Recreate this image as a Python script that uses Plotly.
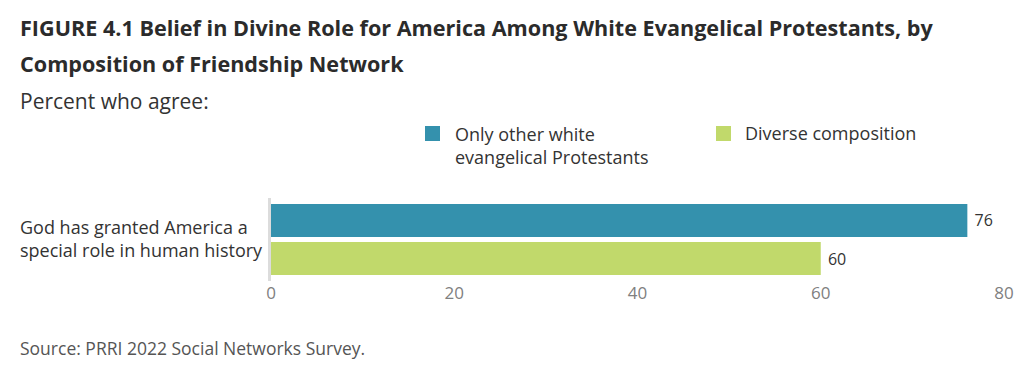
import plotly.graph_objects as go

categories = ["God has granted America a<br>special role in human history"]
series_names = ["Only other white<br>evangelical Protestants", "Diverse composition"]
only_white_evangelical = [76]
diverse_composition = [60]
colors = ["#3491AD", "#C1D96B"]
x_ticks = [0, 20, 40, 60, 80]

# page body adds an 8px offset; work in screenshot pixel coordinates
OFF = 8
W, H = 1033 - OFF, 377 - OFF
PL, PR, PT, PB = 271, 1004, 198, 281  # plot area in screenshot px
PH = PB - PT
PW = PR - PL

def py(y):
    return (PB - y) / PH

def px(x):
    return (x - PL) / PW

FONT = "Open Sans"
fig = go.Figure()
for name, vals, col in [(series_names[0], only_white_evangelical, colors[0]),
                        (series_names[1], diverse_composition, colors[1])]:
    fig.add_trace(go.Bar(
        y=categories, x=vals, name=name, orientation="h",
        marker=dict(color=col, line=dict(width=0)),
        text=vals, texttemplate="\u00a0%{x}", textposition="outside",
        cliponaxis=False,
        textfont=dict(family=FONT, size=16, color="#333333"),
        showlegend=False,
    ))

fig.update_layout(
    width=W, height=H,
    margin=dict(l=PL - OFF, r=1033 - PR, t=PT - OFF, b=377 - PB),
    paper_bgcolor="white", plot_bgcolor="white",
    barmode="group", bargap=0.084, bargroupgap=0.13,
    font=dict(family=FONT, color="#333333"),
    xaxis=dict(range=[0, 80], tickvals=x_ticks, showgrid=False, zeroline=False,
               showline=False, ticks="", tickfont=dict(family=FONT, size=17, color="#808080"),
               fixedrange=True),
    yaxis=dict(autorange="reversed", showticklabels=False, showgrid=False, zeroline=False,
               showline=True, linecolor="#dcdcdc", linewidth=3, ticks=""),
    showlegend=False,
)

annotations = [
    dict(text="<b>FIGURE 4.1 Belief in Divine Role for America Among White Evangelical Protestants, by</b>",
         x=px(18), y=py(27), font=dict(size=21.6, color="#2b2b2b")),
    dict(text="<b>Composition of Friendship Network</b>",
         x=px(18), y=py(63), font=dict(size=21.6, color="#2b2b2b")),
    dict(text="Percent who agree:", x=px(18), y=py(101), font=dict(size=21, color="#333333")),
    dict(text=series_names[0], x=px(453), y=py(145), font=dict(size=18, color="#333333")),
    dict(text=series_names[1], x=px(743), y=py(133), font=dict(size=18, color="#333333")),
    dict(text=categories[0], x=px(18), y=py(238), font=dict(size=18, color="#333333")),
    dict(text="Source: PRRI 2022 Social Networks Survey.", x=px(18), y=py(348),
         font=dict(size=17.5, color="#555555")),
]
for a in annotations:
    fig.add_annotation(xref="paper", yref="paper", xanchor="left", yanchor="middle",
                       align="left", showarrow=False, **a)

for x0, col in [(425, colors[0]), (716, colors[1])]:
    fig.add_shape(type="rect", xref="paper", yref="paper",
                  x0=px(x0), x1=px(x0 + 15), y0=py(126), y1=py(141),
                  fillcolor=col, line=dict(width=0))

fig.write_html("out.html")
